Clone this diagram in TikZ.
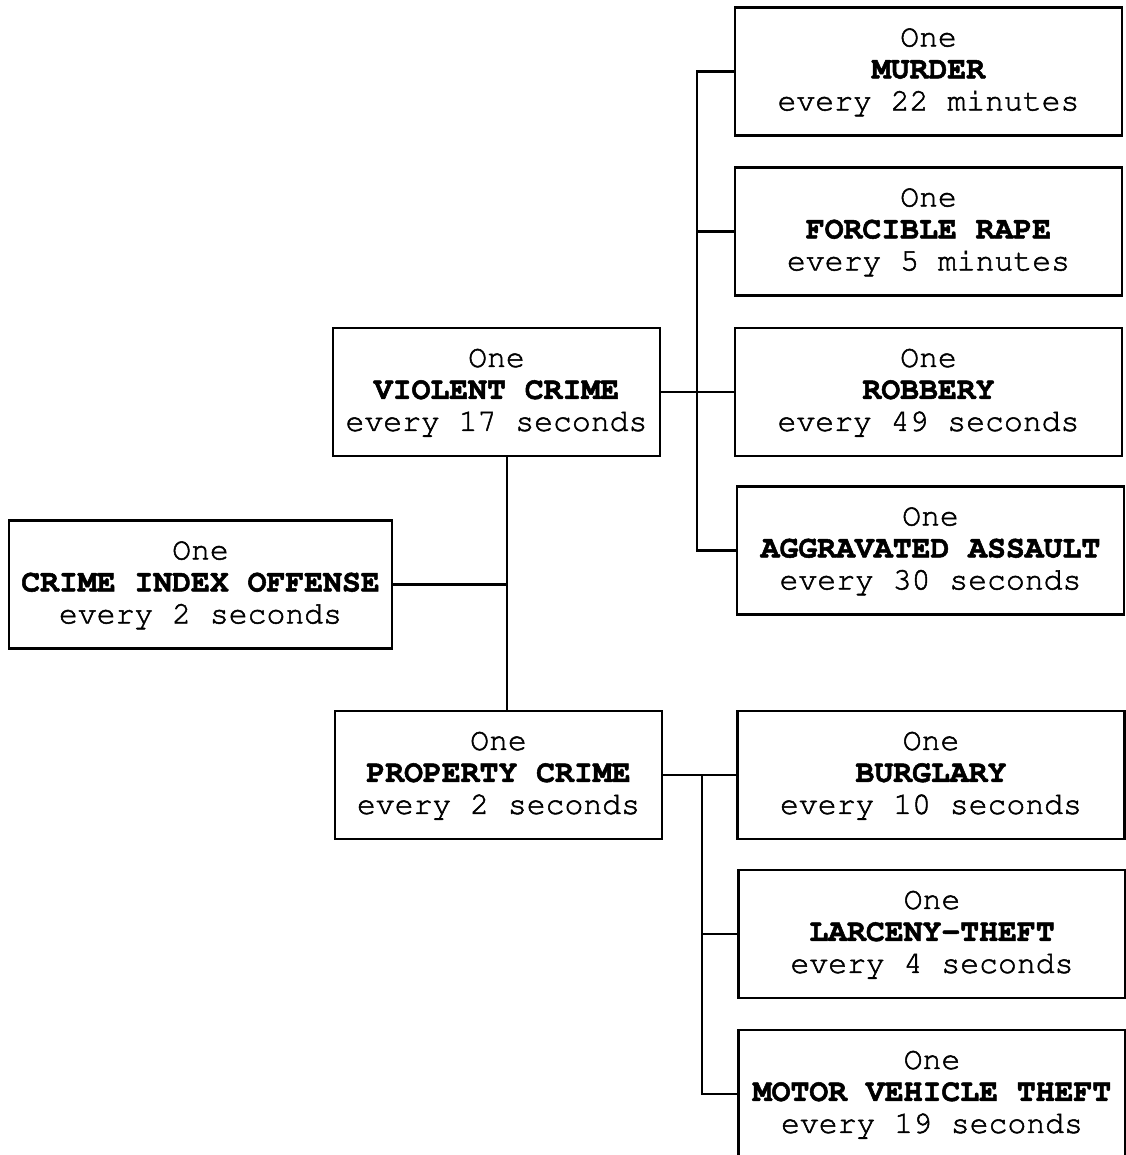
\documentclass[tikz,border=0pt]{standalone}
\usepackage[T1]{fontenc}
\usepackage{courier}
\renewcommand\familydefault{\ttdefault}
\usetikzlibrary{positioning}

\begin{document}
\begin{tikzpicture}[
    x=0.02cm,
    y=-0.02cm,
    crime/.style={
        draw,
        line width=1.3pt,
        align=center,
        font=\fontsize{17.9}{18.2}\selectfont,
        inner sep=0pt,
        minimum height=2.56cm,
        execute at begin node={\special{pdf:literal direct 2 Tr 0.3 w}},
        execute at end node={\special{pdf:literal direct 0 Tr}}
    },
    total/.style={
        crime,
        minimum width=7.66cm
    },
    group/.style={
        crime,
        minimum width=6.54cm
    },
    offense/.style={
        crime,
        minimum width=7.74cm
    },
    link/.style={
        line width=1.3pt
    }
]

\useasboundingbox (0,0) rectangle (1125,1155);

% ============================================================
% CRIME INDEX
% ============================================================

\node[total] (index) at (200.5,584.5)
{One\\\textbf{CRIME INDEX OFFENSE}\\every 2 seconds};

% ============================================================
% VIOLENT / PROPERTY
% ============================================================

\node[group] (violent) at (496.5,392)
{One\\\textbf{VIOLENT CRIME}\\every 17 seconds};

\node[group] (property) at (498.5,775)
{One\\\textbf{PROPERTY CRIME}\\every 2 seconds};

\coordinate (trunk) at (507,584.5);

\draw[link] (index.east) -- (trunk);
\draw[link] (violent.south -| trunk) -- (property.north -| trunk);

% ============================================================
% VIOLENT OFFENSES
% ============================================================

\node[offense] (murder) at (928.5,71.5)
{One\\\textbf{MURDER}\\every 22 minutes};

\node[offense] (rape) at (928.5,231.5)
{One\\\textbf{FORCIBLE RAPE}\\every 5 minutes};

\node[offense] (robbery) at (928.5,392)
{One\\\textbf{ROBBERY}\\every 49 seconds};

\node[offense] (assault) at (930.5,550.5)
{One\\\textbf{AGGRAVATED ASSAULT}\\every 30 seconds};

\coordinate (vbus) at (697,392);

\draw[link] (violent.east) -- (robbery.west);
\draw[link] (murder.west) -| (vbus) |- (assault.west);
\draw[link] (rape.west) -| (vbus);

% ============================================================
% PROPERTY OFFENSES
% ============================================================

\node[offense] (burglary) at (931,775)
{One\\\textbf{BURGLARY}\\every 10 seconds};

\node[offense] (larceny) at (932,934)
{One\\\textbf{LARCENY-THEFT}\\every 4 seconds};

\node[offense] (motor) at (932,1094)
{One\\\textbf{MOTOR VEHICLE THEFT}\\every 19 seconds};

\coordinate (pbus) at (702,775);

\draw[link] (property.east) -- (burglary.west);
\draw[link] (pbus) |- (larceny.west);
\draw[link] (pbus) |- (motor.west);

\end{tikzpicture}
\end{document}
